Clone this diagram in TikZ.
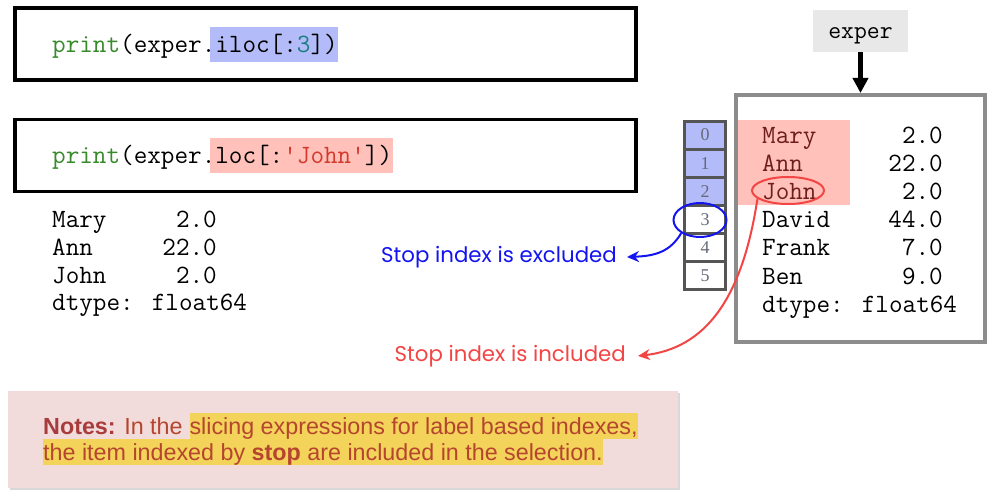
\documentclass[tikz,border=0pt]{standalone}
\usepackage{fontspec}
\setmainfont{Liberation Sans}
\newfontfamily\handfont{Poppins}
\newfontfamily\digfont{Liberation Serif}
\usetikzlibrary{shapes.geometric,arrows.meta,shadows}
\definecolor{hlblue}{HTML}{B3BCF8}
\definecolor{hlpink}{HTML}{FFC1B9}
\definecolor{codegreen}{HTML}{368A2A}
\definecolor{codeteal}{HTML}{1A7F7F}
\definecolor{codered}{HTML}{D33A2C}
\definecolor{framegray}{HTML}{8C8C8C}
\definecolor{cellgray}{HTML}{555555}
\definecolor{diggray}{HTML}{666A7A}
\definecolor{labelbg}{HTML}{E8E8E8}
\definecolor{notebg}{HTML}{F2DCDB}
\definecolor{notehl}{HTML}{F3D35A}
\definecolor{notetext}{HTML}{B5452E}
\definecolor{notebold}{HTML}{A83C3C}
\definecolor{annblue}{HTML}{1414F0}
\definecolor{annred}{HTML}{F44545}
\definecolor{maroon}{HTML}{6E1E1A}
\newcommand\codefnt{\ttfamily\fontsize{26.4}{30}\selectfont\addfontfeatures{FakeBold=0.6}}
\begin{document}
\begin{tikzpicture}[x=1pt,y=-1pt,
  codebox/.style={draw=black, line width=3.5pt, fill=white, minimum width=621pt, minimum height=72pt, inner sep=0pt,
    drop shadow={shadow xshift=1pt, shadow yshift=-1.5pt, opacity=.25}},
  codetext/.style={anchor=base west, inner sep=0pt, font=\codefnt},
  valtext/.style={anchor=base east, inner sep=0pt, font=\codefnt},
  cellbox/.style={draw=cellgray, line width=3pt, minimum width=41pt, minimum height=28.17pt, inner sep=0pt,
    font=\digfont\fontsize{18}{20}\selectfont, text=diggray},
  anntext/.style={font=\handfont\fontsize{21.3}{25}\selectfont, inner ysep=0pt},
  annarrow/.style={line width=2pt, -{Stealth[length=12pt,width=11pt]}},
  notetxt/.style={anchor=base west, inner xsep=0pt, font=\fontsize{23.3}{28}\selectfont, text=notetext,
    text height=19pt, text depth=3pt, inner ysep=2pt}
]
\useasboundingbox (0,0) rectangle (994,495);
\fill[white] (0,0) rectangle (994,495);

% code boxes
\node[codebox] (box1) at (325.5,44) {};
\node[codebox] (box2) at (325.5,155.5) {};
\fill[hlblue] (210,27) rectangle (338,62);
\fill[hlpink] (210,138) rectangle (393,173);
\node[codetext] (code1) at (52,53) {\textcolor{codegreen}{print}(exper.iloc[:\textcolor{codeteal}{3}])};
\node[codetext] (code2) at (52,163) {\textcolor{codegreen}{print}(exper.loc[:\textcolor{codered}{'John'}])};

% left output
\node[codetext] (l1) at (52,227) {Mary};
\node[valtext]  (v1) at (217,227) {2.0};
\node[codetext] (l2) at (52,255) {Ann};
\node[valtext]  (v2) at (217,255) {22.0};
\node[codetext] (l3) at (52,283) {John};
\node[valtext]  (v3) at (217,283) {2.0};
\node[codetext] (l4) at (52,310) {dtype: float64};

% exper label and frame
\node[fill=labelbg, minimum width=95pt, minimum height=42pt, inner sep=0pt, text height=16pt, text depth=0pt,
  font=\ttfamily\fontsize{25}{28}\selectfont\addfontfeatures{FakeBold=0.6}] (exper) at (860.5,31) {exper};
\fill[hlpink] (736,120) rectangle (850,205);
\node[draw=framegray, line width=4pt, minimum width=249pt, minimum height=247pt, inner sep=0pt] (frame) at (860.5,218.5) {};
\draw[line width=4.5pt, -{Triangle[length=15pt,width=15pt]}] (exper.south) -- (frame.north);

\node[codetext, text=maroon] (r1) at (762,143) {Mary};
\node[valtext] (w1) at (943,143) {2.0};
\node[codetext, text=maroon] (r2) at (762,171) {Ann};
\node[valtext] (w2) at (943,171) {22.0};
\node[codetext, text=maroon] (r3) at (762,199) {John};
\node[valtext] (w3) at (943,199) {2.0};
\node[codetext] (r4) at (762,227) {David};
\node[valtext] (w4) at (943,227) {44.0};
\node[codetext] (r5) at (762,255) {Frank};
\node[valtext] (w5) at (943,255) {7.0};
\node[codetext] (r6) at (762,284) {Ben};
\node[valtext] (w6) at (943,284) {9.0};
\node[codetext] (r7) at (762,312) {dtype: float64};

% index cells
\node[cellbox, fill=hlblue] (c0) at (705,135.1) {0};
\node[cellbox, fill=hlblue] (c1) at (705,163.3) {1};
\node[cellbox, fill=hlblue] (c2) at (705,191.4) {2};
\node[cellbox, fill=white] (c3) at (705,219.6) {3};
\node[cellbox, fill=white] (c4) at (705,247.8) {4};
\node[cellbox, fill=white] (c5) at (705,275.9) {5};

% annotations
\node[ellipse, draw=annblue, line width=2pt, minimum width=53pt, minimum height=34pt, inner sep=0pt] (ring3) at (700,220) {};
\node[ellipse, draw=annred, line width=2pt, minimum width=72pt, minimum height=27pt, inner sep=0pt] (johnring) at (788,190.5) {};
\node[anntext, anchor=east, inner xsep=10pt, text=annblue] (excl) at (627,257) {Stop index is excluded};
\node[anntext, anchor=east, inner xsep=12pt, text=annred] (incl) at (638,356) {Stop index is included};
\draw[annarrow, annblue] (ring3.215) .. controls (670,252) and (655,256) .. (excl.east);
\draw[annarrow, annred] (johnring.195) .. controls (742,300) and (705,348) .. (incl.east);

% notes
\node[fill=notebg, minimum width=670pt, minimum height=97pt, inner sep=0pt,
  drop shadow={shadow xshift=1.5pt, shadow yshift=-2pt, opacity=.3}] (notes) at (343,439.5) {};
\node[notetxt] (n1) at (43,434) {\textcolor{notebold}{\textbf{Notes:}} In the};
\node[notetxt, fill=notehl] (n2) at ([xshift=6.5pt]n1.base east) {slicing expressions for label based indexes,};
\node[notetxt, fill=notehl] (n3) at (43,460) {the item indexed by \textbf{stop} are included in the selection.};
\end{tikzpicture}
\end{document}
